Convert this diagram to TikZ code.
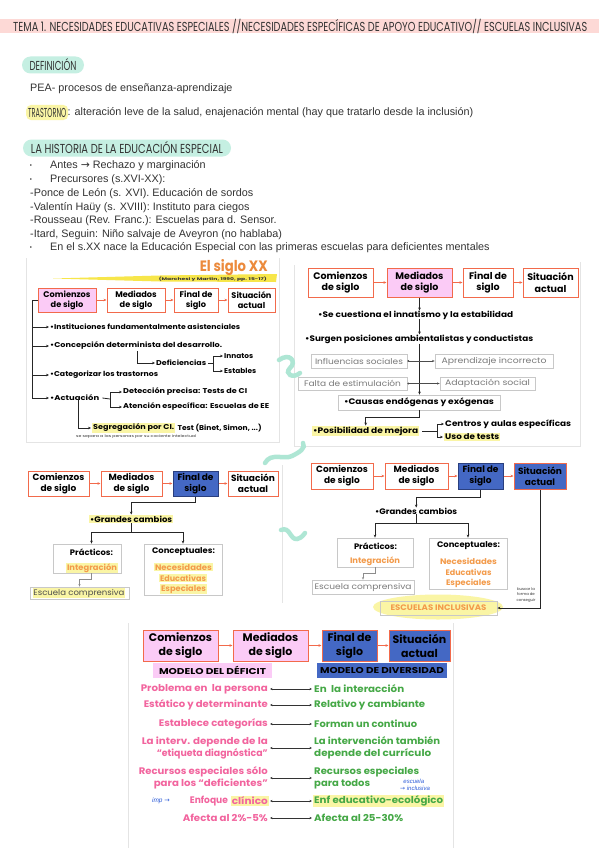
\documentclass[tikz,border=0pt]{standalone}
\usepackage{graphicx}
\usepackage{fontspec}
\setmainfont{Liberation Sans}
\newfontfamily\slidefont[AutoFakeSlant=0.2]{Poppins}
\newfontfamily\handfont{Poppins}
\newfontfamily\dv{DejaVu Sans}
\usetikzlibrary{arrows.meta,calc,shapes.geometric}
\newcommand\fw[2]{\resizebox{#1pt}{\height}{#2}}
\definecolor{bandpink}{HTML}{FDD9D6}
\definecolor{mint}{HTML}{C5EFE2}
\definecolor{mintdk}{HTML}{AEE6D4}
\definecolor{hly}{HTML}{FAF5A5}
\definecolor{boxred}{HTML}{F26A4B}
\definecolor{pinkfill}{HTML}{FBCBF6}
\definecolor{bluefill}{HTML}{4468C4}
\definecolor{navy}{HTML}{2A3F7E}
\definecolor{orng}{HTML}{F39B4B}
\definecolor{siglo}{HTML}{EC8A3C}
\definecolor{brush}{HTML}{F7E64A}
\definecolor{gline}{HTML}{C8C8C8}
\definecolor{gtext}{HTML}{7A7A7A}
\definecolor{hpink}{HTML}{F2649E}
\definecolor{grn}{HTML}{45A846}
\definecolor{penblue}{HTML}{2C5BD8}
\definecolor{panelc}{HTML}{E4E4E4}
\definecolor{ink}{HTML}{333333}
\begin{document}
\begin{tikzpicture}[x=1pt,y=-1pt,
  body/.style={font=\fontsize{10.8}{12}\selectfont, anchor=west, inner sep=0, text=ink},
  bul/.style={font=\fontsize{6}{6}\selectfont, inner sep=0, text=ink},
  hd/.style={font=\handfont\fontsize{13}{14}\selectfont, inner sep=0, text=ink},
  pill/.style={hd, fill=mint, rounded corners=8.5pt, minimum height=17},
  rb/.style={draw=boxred, line width=1pt, fill=white, align=center, inner sep=0},
  tlf/.style={font=\slidefont\bfseries\fontsize{8.2}{10}\selectfont},
  trf/.style={font=\slidefont\bfseries\fontsize{9.5}{11.5}\selectfont},
  blf/.style={font=\slidefont\bfseries\fontsize{9}{11}\selectfont},
  bf/.style={font=\slidefont\bfseries\fontsize{11}{14}\selectfont},
  tli/.style={font=\slidefont\bfseries\fontsize{7}{8}\selectfont, anchor=west, inner sep=0},
  trl/.style={font=\slidefont\bfseries\fontsize{8}{9}\selectfont, anchor=west, inner sep=0},
  ctr/.style={font=\slidefont\bfseries\fontsize{8}{9}\selectfont, inner sep=0},
  gbox/.style={draw=gline, line width=0.8pt, fill=white, inner sep=0, text=gtext, font=\slidefont\fontsize{8}{9}\selectfont},
  ln/.style={line width=0.8pt, draw=black!85},
  arr/.style={ln, -{Stealth[length=3pt,width=2.6pt]}},
  rarr/.style={line width=0.9pt, draw=boxred, -{Stealth[length=3pt,width=2.6pt]}},
  garr/.style={line width=0.5pt, draw=black!70, {Circle[length=1.8pt]}-{Stealth[length=2.5pt,width=2.2pt]}},
  garr2/.style={line width=0.6pt, draw=black!45, -{Stealth[length=2.5pt,width=2.2pt]}},
  darr/.style={line width=0.5pt, draw=black!80, {Stealth[length=2.5pt,width=2.2pt]}-{Stealth[length=2.5pt,width=2.2pt]}},
  panel/.style={draw=panelc, line width=0.7pt},
  squig/.style={draw=mintdk, line width=4.5pt, line cap=round},
  lt/.style={font=\slidefont\bfseries\fontsize{9.5}{12}\selectfont, text=hpink, anchor=east, align=right, inner sep=0},
  rt/.style={font=\slidefont\bfseries\fontsize{9.5}{12}\selectfont, text=grn, anchor=west, align=left, inner sep=0},
  pen/.style={font=\itshape\fontsize{6.5}{6.5}\selectfont, text=penblue, inner sep=0},
  tiny/.style={font=\slidefont\fontsize{3.6}{5}\selectfont, inner sep=0, text=black!80}
]
\useasboundingbox (0,0) rectangle (599,848);
\fill[white] (0,0) rectangle (599,848);

% ---------- title ----------
\fill[bandpink] (0,19) rectangle (599,33);
\node[hd, anchor=west] (title) at (13,26.5) {\fw{574}{TEMA 1. NECESIDADES EDUCATIVAS ESPECIALES //NECESIDADES ESPECÍFICAS DE APOYO EDUCATIVO// ESCUELAS INCLUSIVAS}};

% ---------- definicion ----------
\node[pill, minimum width=62] (defpill) at (53,65) {\fw{47}{DEFINICIÓN}};
\node[body] (pea) at (30,89) {PEA- procesos de enseñanza-aprendizaje};
\node[hd, anchor=west, fill=hly, rounded corners=5pt, inner xsep=2, inner ysep=3] (tras) at (26,112.5) {\fw{38}{TRASTORNO}};
\node[body] (trasdef) at ([xshift=-1]tras.east) {: alteración leve de la salud, enajenación mental (hay que tratarlo desde la inclusión)};

% ---------- historia ----------
\node[pill, minimum width=208] (hist) at (127,148) {\fw{192}{LA HISTORIA DE LA EDUCACIÓN ESPECIAL}};
\node[bul] (bu1) at (31,166) {•};
\node[body] (h1) at (50,166) {Antes {\dv→} Rechazo y marginación};
\node[bul] (bu2) at (31,180) {•};
\node[body] (h2) at (50,180) {Precursores (s.XVI-XX):};
\node[body] (h3) at (30,193.5) {-Ponce de León (s. XVI). Educación de sordos};
\node[body] (h4) at (30,207.5) {-Valentín Haüy (s. XVIII): Instituto para ciegos};
\node[body] (h5) at (30,221) {-Rousseau (Rev. Franc.): Escuelas para d. Sensor.};
\node[body] (h6) at (30,235) {-Itard, Seguin: Niño salvaje de Aveyron (no hablaba)};
\node[bul] (bu3) at (31,248) {•};
\node[body] (h7) at (50,248) {En el s.XX nace la Educación Especial con las primeras escuelas para deficientes mentales};

% ---------- panels ----------
\draw[panel] (26,258) -- (26,442) -- (279,442) -- (279,258);
\draw[panel] (294,265) -- (294,446) -- (580,446) -- (580,262);
\draw[panel] (282,465) -- (282,603);
\draw[panel] (128,623) -- (128,848);
\draw[panel] (453,623) -- (453,848);

% ---------- squiggles ----------
\draw[squig] (279,360) .. controls (290,352) and (297,362) .. (290,368) .. controls (284,374) and (293,379) .. (300,373);
\draw[squig] (265,463) .. controls (271,452) and (284,460) .. (292,456) .. controls (300,452) and (306,448) .. (303,443);
\draw[squig] (281,530) .. controls (290,526) and (290,540) .. (297,539) .. controls (302,538) and (304,534) .. (305,533);

% ---------- top-left slide ----------
\fill[brush] (53,278.5) -- (160,275.5) -- (277,274) -- (276,282) -- (160,281.5) -- cycle;
\node[font=\slidefont\bfseries\itshape\fontsize{15}{16}\selectfont, text=siglo, anchor=east, inner sep=0] (sxx) at (268,268) {\fw{68}{El siglo XX}};
\node[tiny, anchor=east, font=\slidefont\bfseries\fontsize{3.8}{4}\selectfont] (march) at (267,279.5) {\fw{108}{(Marchesi y Martín, 1990, pp. 15-17)}};
\node[rb, tlf, fill=pinkfill, minimum width=58, minimum height=24] (tl1) at (67,300) {Comienzos\\de siglo};
\node[rb, tlf, minimum width=58, minimum height=24] (tl2) at (136,300) {Mediados\\de siglo};
\node[rb, tlf, minimum width=44, minimum height=24] (tl3) at (196,300) {Final de\\siglo};
\node[rb, tlf, minimum width=47, minimum height=24] (tl4) at (251.5,300) {Situación\\actual};
\draw[rarr] (tl1) -- (tl2);
\draw[rarr] (tl2) -- (tl3);
\draw[rarr] (tl3) -- (tl4);
\node[tli] (i1) at (50,327) {\fw{190}{•Instituciones fundamentalmente asistenciales}};
\node[tli] (i2) at (50,346) {\fw{172}{•Concepción determinista del desarrollo.}};
\node[tli] (i3) at (50,375) {\fw{108}{•Categorizar los trastornos}};
\node[tli] (i4) at (50,398) {\fw{49}{•Actuación}};
\node[tli] (def) at (156,363) {\fw{50}{Deficiencias}};
\node[tli] (inn) at (224,356) {\fw{29}{Innatos}};
\node[tli] (est) at (224,371) {\fw{32}{Estables}};
\node[tli] (det) at (123,392) {\fw{124}{Detección precisa: Tests de CI}};
\node[tli] (ate) at (123,407) {\fw{146}{Atención específica: Escuelas de EE}};
\node[tli, fill=hly, inner sep=1] (seg) at (92,428) {\fw{81}{Segregación por CI.}};
\node[tli] (test) at ([xshift=2]seg.east) {\fw{84}{Test (Binet, Simon, ...)}};
\node[tiny, anchor=west] (sep) at (76,437) {\fw{120}{se separa a las personas por su cociente intelectual}};
\coordinate (lb) at (32,398);
\draw[ln] (tl1.west) -| (lb);
\draw[arr, shorten >=1pt] (lb |- i1.west) -- (i1.west);
\draw[arr, shorten >=1pt] (lb |- i2.west) -- (i2.west);
\draw[arr, shorten >=1pt] (lb |- i3.west) -- (i3.west);
\draw[arr, shorten >=1pt] (lb) -- (i4.west);
\coordinate (dstart) at (137,351);
\draw[arr, shorten >=1pt] (dstart) |- (def.west);
\coordinate (dbk) at (213,363);
\draw[ln] ([xshift=2]def.east) -- (dbk);
\draw[arr, shorten >=1pt] (dbk) |- (inn.west);
\draw[arr, shorten >=1pt] (dbk) |- (est.west);
\coordinate (abk) at (110,399);
\draw[ln] ([xshift=3]i4.east) -- (abk);
\draw[arr, shorten >=1pt] (abk) |- (det.west);
\draw[arr, shorten >=1pt] (abk) |- (ate.west);
\draw[arr, shorten >=1pt] ([xshift=4,yshift=2]i4.south) |- (seg.west);

% ---------- top-right slide ----------
\node[rb, trf, minimum width=65, minimum height=29] (tr1) at (340.5,282.5) {Comienzos\\de siglo};
\node[rb, trf, fill=pinkfill, minimum width=65, minimum height=29] (tr2) at (419.5,282.5) {Mediados\\de siglo};
\node[rb, trf, minimum width=50, minimum height=29] (tr3) at (488,282.5) {Final de\\siglo};
\node[rb, trf, minimum width=55, minimum height=29] (tr4) at (550.5,282.5) {Situación\\actual};
\draw[rarr] (tr1) -- (tr2);
\draw[rarr] (tr2) -- (tr3);
\draw[rarr] (tr3) -- (tr4);
\node[trl] (cu) at (318,315) {\fw{195}{•Se cuestiona el innatismo y la estabilidad}};
\node[trl] (su) at (305,339) {\fw{228}{•Surgen posiciones ambientalistas y conductistas}};
\node[gbox, minimum width=96, minimum height=14] (inf) at (359,361) {\fw{88}{Influencias sociales}};
\node[gbox, minimum width=118, minimum height=14] (apr) at (494,361) {\fw{105}{Aprendizaje incorrecto}};
\node[gbox, minimum width=109, minimum height=13] (fal) at (352.5,383.5) {\fw{97}{Falta de estimulación}};
\node[gbox, minimum width=95, minimum height=13] (ada) at (487.5,383.5) {\fw{85}{Adaptación social}};
\node[gbox, text=black, font=\slidefont\bfseries\fontsize{8}{9}\selectfont, minimum width=162, minimum height=15] (cau) at (419,402.5) {\fw{150}{•Causas endógenas y exógenas}};
\node[trl, fill=hly, inner sep=1] (pm) at (312,431) {\fw{105}{•Posibilidad de mejora}};
\node[trl] (cen) at (445,424) {\fw{126}{Centros y aulas específicas}};
\node[trl, fill=hly, inner sep=1] (uso) at (444,437) {\fw{54}{Uso de tests}};
\draw[arr] (tr2.south) -- (tr2.south |- cu.north);
\draw[arr] (tr2.south |- cu.south) -- (tr2.south |- su.north);
\draw[arr] (tr2.south |- su.south) -- (tr2.south |- cau.north);
\draw[garr] (inf.east) -- (apr.west);
\draw[garr] (fal.east) -- (ada.west);
\draw[arr] (cau.south) -- ++(0,7) -| (pm.north);
\coordinate (pbk) at (437,431);
\draw[ln] ([xshift=3]pm.east) -- (pbk);
\draw[arr, shorten >=1pt] (pbk) |- (cen.west);
\draw[arr, shorten >=1pt] (pbk) |- (uso.west);

% ---------- bottom-left slide ----------
\node[rb, blf, minimum width=61, minimum height=25] (bl1) at (58.5,483.5) {Comienzos\\de siglo};
\node[rb, blf, minimum width=61, minimum height=25] (bl2) at (131.5,483.5) {Mediados\\de siglo};
\node[rb, blf, draw=navy, fill=bluefill, minimum width=45, minimum height=25] (bl3) at (195.5,483.5) {Final de\\siglo};
\node[rb, blf, minimum width=50, minimum height=25] (bl4) at (253,483.5) {Situación\\actual};
\draw[rarr] (bl1) -- (bl2);
\draw[rarr] (bl2) -- (bl3);
\draw[rarr] (bl3) -- (bl4);
\node[trl, fill=hly, inner sep=1] (gc) at (89,519) {\fw{82}{•Grandes cambios}};
\node[gbox, minimum width=68, minimum height=29] (pr) at (87,558.5) {};
\node[gbox, minimum width=78, minimum height=51] (co) at (183,569.5) {};
\node[ctr] (prt) at (91.5,552) {\fw{43}{Prácticos:}};
\node[ctr, fill=hly, inner sep=1, text=orng] (int) at (92,568) {\fw{50}{Integración}};
\node[ctr] (cot) at (183.5,552) {\fw{63}{Conceptuales:}};
\node[ctr, fill=hly, inner sep=1, text=orng] (nec) at (183.5,567) {\fw{57}{Necesidades}};
\node[ctr, fill=hly, inner sep=1, text=orng] (edu) at (183,578) {\fw{46}{Educativas}};
\node[ctr, fill=hly, inner sep=1, text=orng] (esp) at (183.5,589) {\fw{45}{Especiales}};
\node[gbox, minimum width=99, minimum height=12] (escb) at (79.5,593) {};
\node[ctr, font=\slidefont\fontsize{8}{9}\selectfont, fill=hly, inner sep=0.5, text=black!70] (esct) at (79,593) {\fw{91}{Escuela comprensiva}};
\draw[arr] (bl3.south) -- ++(0,6) -| (gc.north);
\draw[ln] (gc.south) -- ++(0,9) coordinate (gsp);
\draw[arr] (gsp) -| (pr.north -| prt);
\draw[arr] (gsp) -| (co.north);
\draw[garr2] (pr.south -| prt) -- ++(0,6) -| (escb.north);

% ---------- bottom-right slide ----------
\node[rb, blf, minimum width=62, minimum height=26] (br1) at (342,476) {Comienzos\\de siglo};
\node[rb, blf, minimum width=63, minimum height=26] (br2) at (416.5,476) {Mediados\\de siglo};
\node[rb, blf, draw=navy, fill=bluefill, minimum width=45, minimum height=26] (br3) at (480.5,476) {Final de\\siglo};
\node[rb, blf, fill=bluefill, minimum width=52, minimum height=26] (br4) at (540,476) {Situación\\actual};
\draw[rarr] (br1) -- (br2);
\draw[rarr] (br2) -- (br3);
\draw[rarr] (br3) -- (br4);
\node[trl] (gc2) at (375,511) {\fw{82}{•Grandes cambios}};
\node[gbox, minimum width=76, minimum height=29] (pr2) at (375,552.5) {};
\node[gbox, minimum width=78, minimum height=51] (co2) at (468,563.5) {};
\node[ctr] (prt2) at (375.5,546) {\fw{43}{Prácticos:}};
\node[ctr, text=orng] (int2) at (375,561) {\fw{50}{Integración}};
\node[ctr] (cot2) at (468.5,546) {\fw{63}{Conceptuales:}};
\node[ctr, text=orng] (nec2) at (468.5,561) {\fw{57}{Necesidades}};
\node[ctr, text=orng] (edu2) at (468.5,572) {\fw{46}{Educativas}};
\node[ctr, text=orng] (esp2) at (468.5,583) {\fw{45}{Especiales}};
\node[gbox, minimum width=102, minimum height=14] (esc2) at (363,587) {\fw{97}{Escuela comprensiva}};
\node[ellipse, fill=hly, minimum width=130, minimum height=25, inner sep=0] (eiglow) at (438,607) {};
\node[draw=gline, line width=0.8pt, minimum width=117, minimum height=14, inner sep=0, text=orng, font=\slidefont\bfseries\fontsize{8}{9}\selectfont] (ei) at (438.5,608) {\fw{96}{ESCUELAS INCLUSIVAS}};
\node[tiny, align=center, font=\slidefont\fontsize{3.8}{5.5}\selectfont] (bus) at (526,595) {buscar la\\forma de\\conseguir};
\draw[arr] (br3.south) -- ++(0,8) -| (gc2.north);
\draw[ln] (gc2.south) -- ++(0,9) coordinate (gsp2);
\draw[arr] (gsp2) -| (pr2.north);
\draw[arr] (gsp2) -| (co2.north);
\draw[garr2] (pr2.south) -- ++(0,6) -| (esc2.north);
\draw[arr] (br4.south) |- (ei.east);

% ---------- bottom slide ----------
\node[rb, bf, fill=pinkfill, minimum width=75, minimum height=31] (b1) at (180.5,645.5) {Comienzos\\de siglo};
\node[rb, bf, fill=pinkfill, minimum width=75, minimum height=31] (b2) at (270.5,645.5) {Mediados\\de siglo};
\node[rb, bf, fill=bluefill, minimum width=55, minimum height=31] (b3) at (349.5,645.5) {Final de\\siglo};
\node[rb, bf, fill=bluefill, minimum width=61, minimum height=31] (b4) at (419.5,645.5) {Situación\\actual};
\draw[rarr] (b1) -- (b2);
\draw[rarr] (b2) -- (b3);
\draw[rarr] (b3) -- (b4);
\node[fill=pinkfill, minimum width=119, minimum height=15, inner sep=0, font=\slidefont\bfseries\fontsize{8.5}{9}\selectfont] (md) at (212.5,670.5) {\fw{107}{MODELO DEL DÉFICIT}};
\node[fill=bluefill, minimum width=130, minimum height=15, inner sep=0, font=\slidefont\bfseries\fontsize{8.5}{9}\selectfont] (mv) at (382,670.5) {\fw{124}{MODELO DE DIVERSIDAD}};

\node[lt] (l1) at (268,689) {\fw{127}{Problema en\ \ la persona}};
\node[rt] (r1) at (314,689) {\fw{90}{En\ \ la interacción}};
\node[lt] (l2) at (268,705) {\fw{124}{Estático y determinante}};
\node[rt] (r2) at (314,705) {\fw{111}{Relativo y cambiante}};
\node[lt] (l3) at (268,724) {\fw{109}{Establece categorías}};
\node[rt] (r3) at (314,724) {\fw{103}{Forman un continuo}};
\node[lt] (l4) at (268,748) {\fw{126}{La interv. depende de la}\\\fw{111}{“etiqueta diagnóstica”}};
\node[rt] (r4) at (314,748) {\fw{126}{La intervención también}\\\fw{117}{depende del currículo}};
\node[lt] (l5) at (268,778) {\fw{129}{Recursos especiales sólo}\\\fw{114}{para los “deficientes”}};
\node[rt] (r5) at (314,778) {\fw{105}{Recursos especiales}\\\fw{56}{para todos}};
\node[lt, fill=hly, inner sep=1] (cl) at (269,801) {\fw{36}{clínico}};
\node[lt] (enf) at ([xshift=-2.5]cl.west) {\fw{38}{Enfoque}};
\node[rt, fill=hly, inner sep=1] (r6) at (313,801) {\fw{129}{Enf educativo-ecológico}};
\node[lt] (l7) at (268,818) {\fw{85}{Afecta al 2\%-5\%}};
\node[rt] (r7) at (314,818) {\fw{89}{Afecta al 25-30\%}};
\draw[darr] ([xshift=2]l1.east) -- ([xshift=-2]r1.west);
\draw[darr] ([xshift=2]l2.east) -- ([xshift=-2]r2.west);
\draw[darr] ([xshift=2]l3.east) -- ([xshift=-2]r3.west);
\draw[darr] ([xshift=2]l4.east) -- ([xshift=-2]r4.west);
\draw[darr] ([xshift=2]l5.east) -- ([xshift=-2]r5.west);
\draw[darr] ([xshift=1]cl.east) -- ([xshift=-1]r6.west);
\draw[darr] ([xshift=2]l7.east) -- ([xshift=-2]r7.west);
\node[pen] (imp) at (161,801) {imp {\dv\upshape →}};
\node[pen, align=left, font=\itshape\fontsize{6}{6.5}\selectfont] (escin) at (415,785) {\ \ escuela\\{\dv\upshape →} inclusiva};
\end{tikzpicture}
\end{document}
